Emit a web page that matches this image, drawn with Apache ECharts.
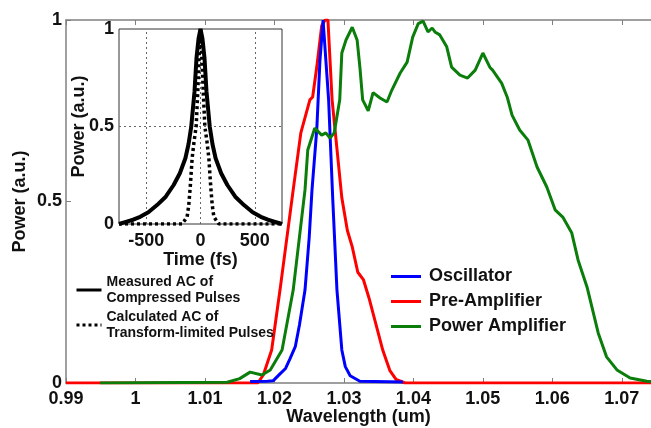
<!DOCTYPE html>
<html>
<head>
<meta charset="utf-8">
<script src="https://cdn.jsdelivr.net/npm/echarts@6/dist/echarts.min.js"></script>
<style>
html,body{margin:0;padding:0;background:#fff;}
#c{width:651px;height:428px;}
</style>
</head>
<body>
<div id="c"></div>
<script>
// ---- main spectra (wavelength in um, normalized power) ----
const oscWl  = [1.0165, 1.0190, 1.0198, 1.0208, 1.0216, 1.0222, 1.0230, 1.0236, 1.0244, 1.0250, 1.0254, 1.0261, 1.02655, 1.0270, 1.02727, 1.0278, 1.0284, 1.0290, 1.0297, 1.0302, 1.0309, 1.0323, 1.0385];
const oscPow = [0.004, 0.005, 0.006, 0.025, 0.040, 0.065, 0.100, 0.160, 0.256, 0.400, 0.530, 0.700, 0.888, 1.000, 0.997, 0.780, 0.504, 0.256, 0.091, 0.045, 0.020, 0.005, 0.003];

const preWl  = [0.9900, 1.0176, 1.0184, 1.0196, 1.0208, 1.0227, 1.0238, 1.0251, 1.0255, 1.0261, 1.0268, 1.0273, 1.0277, 1.0283, 1.0297, 1.0305, 1.0312, 1.0320, 1.0328, 1.0336, 1.0345, 1.0356, 1.0366, 1.0375, 1.0388, 1.0742];
const prePow = [0, 0, 0.022, 0.091, 0.256, 0.532, 0.689, 0.780, 0.788, 0.871, 0.984, 1.000, 1.000, 0.780, 0.510, 0.420, 0.375, 0.305, 0.285, 0.235, 0.170, 0.090, 0.035, 0.010, 0, 0];

const ampWl  = [0.9949, 1.0132, 1.0150, 1.0165, 1.0182, 1.0194, 1.0211, 1.0227, 1.0244, 1.0248, 1.0258, 1.0268, 1.0274, 1.0280, 1.0286, 1.0294, 1.0297, 1.0303, 1.0312, 1.0319, 1.0323, 1.0327, 1.0335, 1.0342, 1.0352, 1.0362, 1.0369, 1.0381, 1.0391, 1.0399, 1.0407, 1.0414, 1.0421, 1.0427, 1.0431, 1.0438, 1.0448, 1.0455, 1.0467, 1.0478, 1.0489, 1.0500, 1.0510, 1.0514, 1.0527, 1.0535, 1.0542, 1.0553, 1.0565, 1.0578, 1.0592, 1.0604, 1.0615, 1.0628, 1.0637, 1.0650, 1.0657, 1.0666, 1.0678, 1.0693, 1.0712, 1.0736, 1.0742];
const ampPow = [0, 0.002, 0.012, 0.030, 0.022, 0.036, 0.091, 0.256, 0.532, 0.642, 0.702, 0.683, 0.689, 0.675, 0.689, 0.780, 0.909, 0.945, 0.980, 0.945, 0.870, 0.780, 0.750, 0.800, 0.785, 0.774, 0.807, 0.854, 0.884, 0.953, 0.990, 0.997, 0.967, 0.978, 0.967, 0.959, 0.926, 0.870, 0.848, 0.840, 0.862, 0.909, 0.870, 0.862, 0.826, 0.788, 0.738, 0.697, 0.669, 0.595, 0.540, 0.477, 0.457, 0.413, 0.339, 0.264, 0.209, 0.138, 0.072, 0.036, 0.014, 0.005, 0.004];

// ---- inset autocorrelations (time in fs) ----
const acTime   = [-750, -694, -620, -555, -480, -400, -320, -247, -190, -139, -110, -85, -55, -37, -18, 0, 18, 37, 55, 85, 110, 139, 190, 247, 320, 400, 480, 555, 620, 694, 750];
const acMeas   = [0, 0.010, 0.022, 0.037, 0.060, 0.097, 0.140, 0.200, 0.260, 0.337, 0.410, 0.500, 0.680, 0.850, 0.950, 1.000, 0.950, 0.850, 0.680, 0.500, 0.410, 0.337, 0.260, 0.200, 0.140, 0.097, 0.060, 0.037, 0.022, 0.010, 0];
const tlTime   = [-750, -170, -150, -123, -108, -93, -77, -60, -40, -25, -12, 0, 12, 25, 40, 60, 77, 93, 108, 123, 150, 170, 750];
const tlCalc   = [0, 0, 0.015, 0.037, 0.097, 0.200, 0.337, 0.420, 0.500, 0.680, 0.870, 1.000, 0.870, 0.680, 0.500, 0.420, 0.337, 0.200, 0.097, 0.037, 0.015, 0, 0];

const seriesNames = ['Oscillator', 'Pre-Amplifier', 'Power Amplifier'];
const insetNames = ['Measured AC of\nCompressed Pulses', 'Calculated AC of\nTransform-limited Pulses'];
const insetGridX = [-500, 0, 500];
const insetGridY = [0.5];

const zip = (a, b) => a.map((v, i) => [v, b[i]]);
const FONT = '"Liberation Sans", Arial, sans-serif';
const txt = (size) => ({fontFamily: FONT, fontSize: size, fontWeight: 'bold', color: '#111'});
const AX = '#808080';

const chart = echarts.init(document.getElementById('c'), null, {renderer: 'canvas'});
chart.setOption({
  animation: false,
  backgroundColor: '#fff',
  grid: [
    {left: 66, top: 20, right: 0, bottom: 45, show: false, outerBoundsMode: 'none', containLabel: false},
    {left: 119, top: 29, width: 163, height: 195, show: true, borderColor: '#333', borderWidth: 1, backgroundColor: '#fff', outerBoundsMode: 'none', containLabel: false}
  ],
  xAxis: [
    {gridIndex: 0, type: 'value', min: 0.99, max: 1.0742, interval: 0.01, position: 'bottom',
     axisLine: {lineStyle: {color: AX, width: 1.5}},
     axisTick: {inside: true, length: 5, lineStyle: {color: AX, width: 1}},
     axisLabel: Object.assign({margin: 7, showMaxLabel: false, formatter: v => String(+v.toFixed(3))}, txt(18)),
     splitLine: {show: false},
     name: 'Wavelength (um)', nameLocation: 'middle', nameGap: 25, nameMoveOverlap: false, nameTextStyle: txt(18)},
    {gridIndex: 0, type: 'value', min: 0.99, max: 1.0742, interval: 0.01, position: 'top',
     axisLine: {lineStyle: {color: AX, width: 1.5}},
     axisTick: {inside: true, length: 5, lineStyle: {color: AX, width: 1}},
     axisLabel: {show: false}, splitLine: {show: false}},
    {gridIndex: 1, type: 'value', min: -750, max: 750, interval: 250,
     axisLine: {show: false}, axisTick: {show: false}, splitLine: {show: false},
     axisLabel: Object.assign({margin: 8, formatter: v => (v % 500 === 0 ? String(v) : '')}, txt(18)),
     name: 'Time (fs)', nameLocation: 'middle', nameGap: 27, nameMoveOverlap: false, nameTextStyle: txt(18)}
  ],
  yAxis: [
    {gridIndex: 0, type: 'value', min: 0, max: 1, interval: 0.5,
     axisLine: {show: true, lineStyle: {color: AX, width: 1.5}},
     axisTick: {show: true, inside: true, length: 5, lineStyle: {color: AX, width: 1}},
     axisLabel: Object.assign({margin: 4}, txt(18)),
     splitLine: {show: false},
     name: 'Power (a.u.)', nameLocation: 'middle', nameGap: 37, nameMoveOverlap: false, nameTextStyle: txt(18)},
    {gridIndex: 1, type: 'value', min: 0, max: 1, interval: 0.5,
     axisLine: {show: false}, axisTick: {show: false}, splitLine: {show: false},
     axisLabel: Object.assign({margin: 5}, txt(18)),
     name: 'Power (a.u.)', nameLocation: 'middle', nameGap: 31, nameMoveOverlap: false, nameTextStyle: txt(18)}
  ],
  legend: [
    {data: seriesNames, orient: 'vertical', left: 391, top: 267, padding: 0, itemWidth: 30, itemHeight: 3, itemGap: 6,
     icon: 'rect', selectedMode: false,
     textStyle: Object.assign({lineHeight: 19, padding: [0, 0, 0, 3]}, txt(18))},
    {data: insetNames, orient: 'vertical', left: 75, top: 274, padding: 0, itemWidth: 25, itemHeight: 1, itemGap: 3,
     selectedMode: false, itemStyle: {opacity: 0}, lineStyle: {width: 3},
     textStyle: Object.assign({lineHeight: 16}, txt(14))}
  ],
  series: [
    {name: 'Pre-Amplifier', type: 'line', xAxisIndex: 0, yAxisIndex: 0, data: zip(preWl, prePow),
     symbol: 'none', lineStyle: {color: '#ff0000', width: 3}, itemStyle: {color: '#ff0000'}, z: 3},
    {name: 'Oscillator', type: 'line', xAxisIndex: 0, yAxisIndex: 0, data: zip(oscWl, oscPow),
     symbol: 'none', lineStyle: {color: '#0000ff', width: 3}, itemStyle: {color: '#0000ff'}, z: 4},
    {name: 'Power Amplifier', type: 'line', xAxisIndex: 0, yAxisIndex: 0, data: zip(ampWl, ampPow),
     symbol: 'none', lineStyle: {color: '#0a7d0a', width: 3}, itemStyle: {color: '#0a7d0a'}, z: 5},
    {name: 'insetGrid', type: 'line', xAxisIndex: 2, yAxisIndex: 1, data: [],
     symbol: 'none', z: 6,
     markLine: {silent: true, symbol: ['none', 'none'], label: {show: false},
       lineStyle: {type: [2, 3], color: '#666', width: 1},
       data: insetGridX.map(v => ({xAxis: v})).concat(insetGridY.map(v => ({yAxis: v})))}},
    {name: insetNames[0], type: 'line', xAxisIndex: 2, yAxisIndex: 1, data: zip(acTime, acMeas),
     symbol: 'none', lineStyle: {color: '#000', width: 4}, itemStyle: {color: '#000'}, z: 7},
    {name: insetNames[1], type: 'line', xAxisIndex: 2, yAxisIndex: 1, data: zip(tlTime, tlCalc),
     symbol: 'none', lineStyle: {color: '#000', width: 3.5, type: [3, 3]}, itemStyle: {color: '#000'}, z: 8}
  ]
});
</script>
</body>
</html>
